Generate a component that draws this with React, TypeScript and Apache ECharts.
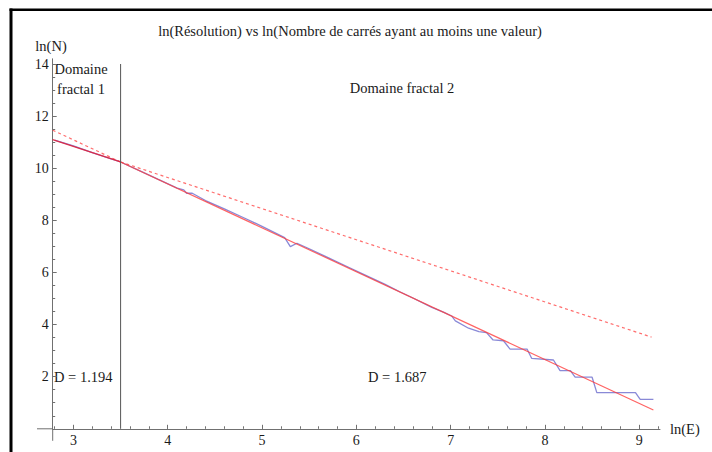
import React, { useEffect, useRef } from "react";
import * as echarts from "echarts";

const TITLE = "ln(Résolution) vs ln(Nombre de carrés ayant au moins une valeur)";
const X_NAME = "ln(E)";
const Y_NAME = "ln(N)";
const DOMAIN1 = "Domaine\nfractal 1";
const DOMAIN2 = "Domaine fractal 2";
const D1 = "D = 1.194";
const D2 = "D = 1.687";

const X_MIN = 2.78;
const X_MAX = 9.22;
const Y_MIN = 0;
const Y_MAX = 14.2;

const X_TICK_LABELS = [3, 4, 5, 6, 7, 8, 9];
const X_MINOR_TICKS = [
  2.8, 3.0, 3.2, 3.4, 3.6, 3.8, 4.0, 4.2, 4.4, 4.6, 4.8, 5.0, 5.2, 5.4, 5.6, 5.8,
  6.0, 6.2, 6.4, 6.6, 6.8, 7.0, 7.2, 7.4, 7.6, 7.8, 8.0, 8.2, 8.4, 8.6, 8.8, 9.0, 9.2,
];
const Y_TICK_LABELS = [2, 4, 6, 8, 10, 12, 14];
const Y_MINOR_TICKS = [
  0.5, 1, 1.5, 2, 2.5, 3, 3.5, 4, 4.5, 5, 5.5, 6, 6.5, 7, 7.5, 8, 8.5, 9, 9.5, 10,
  10.5, 11, 11.5, 12, 12.5, 13, 13.5, 14,
];

// measured data: ln(E) vs ln(N)
const dataLnE = [
  2.8, 3.0, 3.2, 3.4, 3.5, 3.7, 3.9, 4.1, 4.17, 4.2, 4.26, 4.4, 4.6, 4.8, 5.0, 5.24,
  5.3, 5.37, 5.5, 5.7, 5.9, 6.1, 6.3, 6.46, 6.6, 6.8, 6.93, 7.01, 7.05, 7.19, 7.3,
  7.38, 7.45, 7.56, 7.63, 7.81, 7.86, 8.09, 8.16, 8.27, 8.32, 8.5, 8.55, 8.96, 9.01, 9.15,
];
const dataLnN = [
  11.08, 10.86, 10.6, 10.36, 10.24, 9.91, 9.57, 9.24, 9.17, 9.04, 9.04, 8.76, 8.44,
  8.11, 7.77, 7.34, 6.99, 7.12, 6.91, 6.57, 6.23, 5.89, 5.55, 5.26, 5.02, 4.66, 4.47,
  4.33, 4.14, 3.86, 3.73, 3.69, 3.41, 3.38, 3.06, 3.06, 2.7, 2.64, 2.23, 2.23, 1.98,
  1.98, 1.39, 1.39, 1.13, 1.13,
];

// fitted lines (solid inside own domain, dotted as extension)
const fit1SolidX = [2.78, 3.5];
const fit1SolidY = [11.1, 10.24];
const fit1DashX = [3.5, 9.13];
const fit1DashY = [10.24, 3.52];
const fit2SolidX = [3.5, 9.15];
const fit2SolidY = [10.24, 0.72];
const fit2DashX = [2.78, 3.5];
const fit2DashY = [11.46, 10.24];
const boundaryX = [3.5, 3.5];
const boundaryY = [0, 14];

const zip = (xs: number[], ys: number[]) => xs.map((x, i) => [x, ys[i]]);

const FONT = "Liberation Serif";
const AXIS_COLOR = "#707070";
const TEXT_COLOR = "#1a1a1a";
const RED = "#ff3c3c";
const BLUE = "#7474d0";

export default function App() {
  const ref = useRef<HTMLDivElement>(null);
  useEffect(() => {
    if (!ref.current) return;
    const chart = echarts.init(ref.current, undefined, { renderer: "svg" });
    const grid = { left: 52.7, right: 52, top: 58.8, bottom: 23.2 };
    chart.setOption({
      animation: false,
      backgroundColor: "#ffffff",
      textStyle: { fontFamily: FONT },
      grid,
      xAxis: [
        {
          type: "value",
          min: X_MIN,
          max: X_MAX,
          splitLine: { show: false },
          axisLine: { show: true, lineStyle: { color: AXIS_COLOR, width: 1 } },
          axisTick: {
            show: true,
            inside: true,
            length: 4,
            customValues: X_TICK_LABELS,
            lineStyle: { color: AXIS_COLOR },
          },
          axisLabel: {
            show: true,
            customValues: X_TICK_LABELS,
            margin: 5,
            color: TEXT_COLOR,
            fontFamily: FONT,
            fontSize: 14,
          },
        },
        {
          type: "value",
          min: X_MIN,
          max: X_MAX,
          position: "bottom",
          splitLine: { show: false },
          axisLine: { show: false },
          axisLabel: { show: false },
          axisTick: {
            show: true,
            inside: true,
            length: 2.5,
            customValues: X_MINOR_TICKS,
            lineStyle: { color: AXIS_COLOR },
          },
        },
      ],
      yAxis: [
        {
          type: "value",
          min: Y_MIN,
          max: Y_MAX,
          splitLine: { show: false },
          axisLine: { show: true, lineStyle: { color: AXIS_COLOR, width: 1 } },
          axisTick: {
            show: true,
            inside: true,
            length: 4,
            customValues: Y_TICK_LABELS,
            lineStyle: { color: AXIS_COLOR },
          },
          axisLabel: {
            show: true,
            customValues: Y_TICK_LABELS,
            margin: 4,
            color: TEXT_COLOR,
            fontFamily: FONT,
            fontSize: 14,
          },
        },
        {
          type: "value",
          min: Y_MIN,
          max: Y_MAX,
          position: "left",
          splitLine: { show: false },
          axisLine: { show: false },
          axisLabel: { show: false },
          axisTick: {
            show: true,
            inside: true,
            length: 2.5,
            customValues: Y_MINOR_TICKS,
            lineStyle: { color: AXIS_COLOR },
          },
        },
      ],
      series: [
        {
          type: "line",
          data: zip(dataLnE, dataLnN),
          showSymbol: false,
          lineStyle: { color: BLUE, width: 1.3, opacity: 0.85 },
          z: 2,
        },
        {
          type: "line",
          data: zip(fit1DashX, fit1DashY),
          showSymbol: false,
          lineStyle: { color: RED, width: 1.2, type: [3, 3], opacity: 0.75 },
          z: 3,
        },
        {
          type: "line",
          data: zip(fit2DashX, fit2DashY),
          showSymbol: false,
          lineStyle: { color: RED, width: 1.2, type: [3, 3], opacity: 0.75 },
          z: 3,
        },
        {
          type: "line",
          data: zip(fit1SolidX, fit1SolidY),
          showSymbol: false,
          lineStyle: { color: "#e0203a", width: 1.3, opacity: 0.9 },
          z: 4,
        },
        {
          type: "line",
          data: zip(fit2SolidX, fit2SolidY),
          showSymbol: false,
          lineStyle: { color: RED, width: 1.2, opacity: 0.8 },
          z: 4,
        },
        {
          type: "line",
          data: zip(boundaryX, boundaryY),
          showSymbol: false,
          lineStyle: { color: "#555555", width: 1 },
          z: 5,
        },
      ],
    });

    const o = chart.convertToPixel({ gridIndex: 0 }, [X_MIN, 0]) as number[];
    const textStyle = (t: string, extra: any = {}) => ({
      text: t,
      fontFamily: FONT,
      fontSize: 14.5,
      fill: TEXT_COLOR,
      ...extra,
    });
    chart.setOption({
      graphic: [
        // frame
        { type: "line", shape: { x1: 11, y1: 8.5, x2: 11, y2: 452 }, style: { stroke: "#000", lineWidth: 3 } },
        { type: "line", shape: { x1: 9.5, y1: 9.8, x2: 712, y2: 9.8 }, style: { stroke: "#000", lineWidth: 2.5 } },
        // axis line extensions through the origin
        { type: "line", shape: { x1: 37, y1: o[1], x2: o[0], y2: o[1] }, style: { stroke: AXIS_COLOR, lineWidth: 1 } },
        { type: "line", shape: { x1: o[0], y1: o[1], x2: o[0], y2: o[1] + 12 }, style: { stroke: AXIS_COLOR, lineWidth: 1 } },
        { type: "text", x: 350, y: 31, style: textStyle(TITLE, { align: "center", verticalAlign: "middle" }) },
        { type: "text", x: 51, y: 46, style: textStyle(Y_NAME, { align: "center", verticalAlign: "middle" }) },
        { type: "text", x: 670, y: 429, style: textStyle(X_NAME, { align: "left", verticalAlign: "middle" }) },
        { type: "text", x: 81, y: 79, style: textStyle(DOMAIN1, { align: "center", verticalAlign: "middle", lineHeight: 20 }) },
        { type: "text", x: 402, y: 88, style: textStyle(DOMAIN2, { align: "center", verticalAlign: "middle" }) },
        { type: "text", x: 54, y: 377, style: textStyle(D1, { align: "left", verticalAlign: "middle" }) },
        { type: "text", x: 368, y: 377, style: textStyle(D2, { align: "left", verticalAlign: "middle" }) },
      ],
    });
    return () => chart.dispose();
  }, []);
  return (
    <div
      ref={ref}
      style={{ position: "fixed", left: 0, top: 0, width: 712, height: 452, background: "#fff" }}
    />
  );
}
